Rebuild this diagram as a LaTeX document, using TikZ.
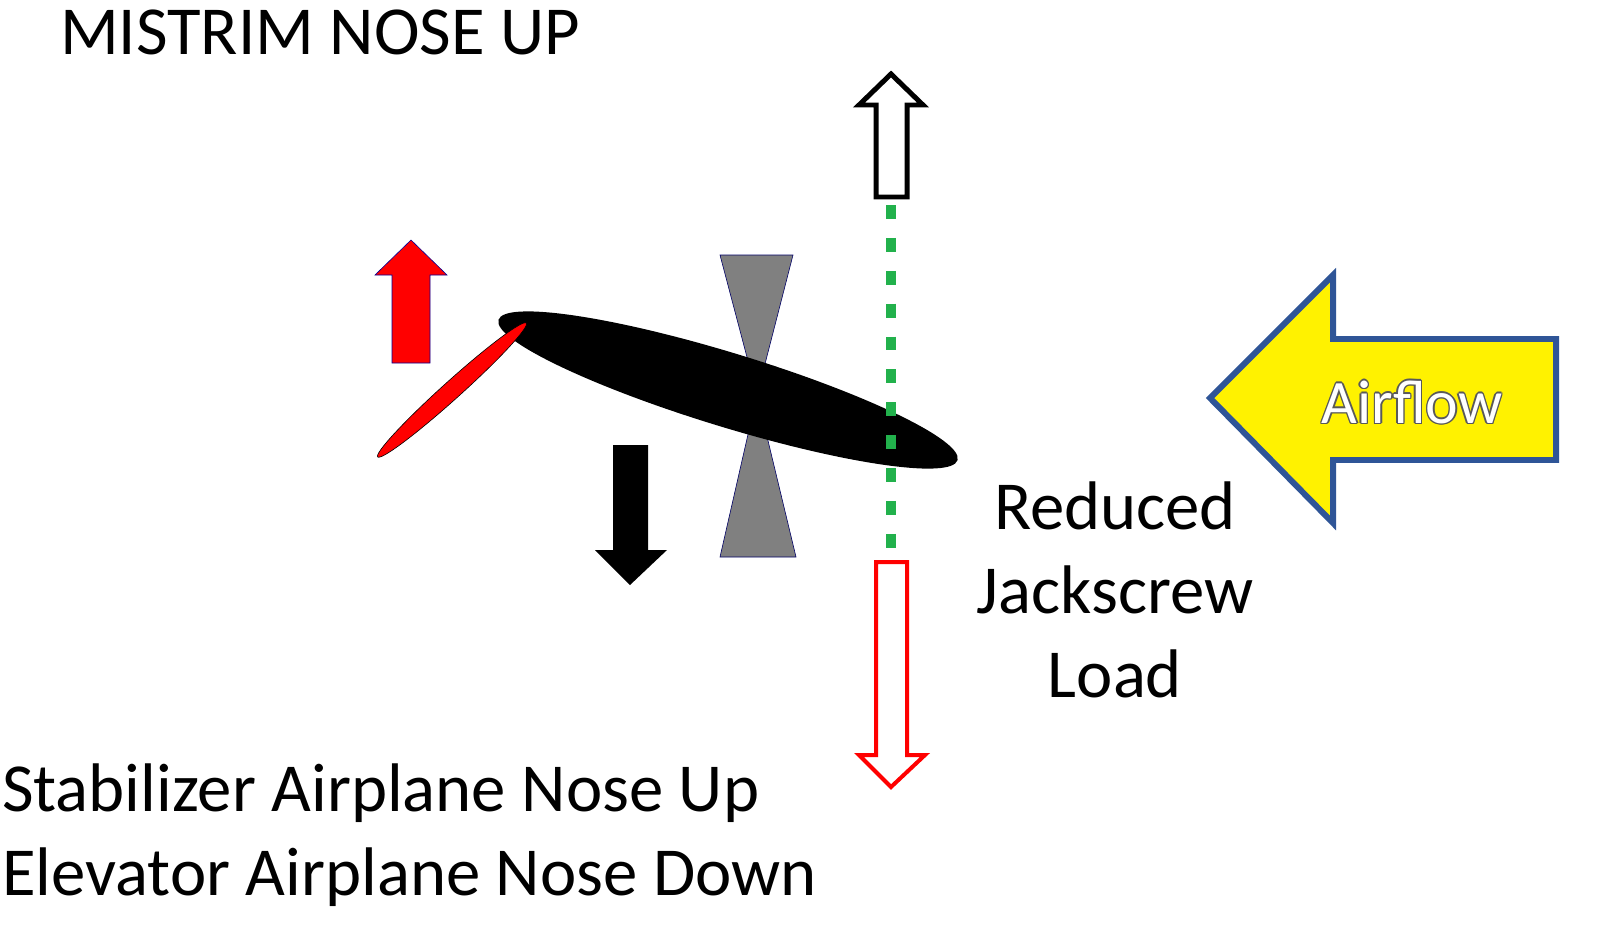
\documentclass[tikz,border=0pt]{standalone}
\usepackage{fontspec}
\setmainfont{Carlito}
\begin{document}
\begin{tikzpicture}[x=1bp,y=-1bp,
  lbl/.style={font=\fontsize{69}{84}\selectfont,inner sep=0pt}]
\useasboundingbox (0,0) rectangle (1600,930);
\fill[white] (0,0) rectangle (1600,930);
\node[lbl,anchor=west] (title) at (60,32) {MISTRIM NOSE UP};
% hourglass
\fill[fill=gray,draw=blue!40!black,line width=0.6] (720,255) -- (793,255) -- (757,395) -- cycle;
\fill[fill=gray,draw=blue!40!black,line width=0.6] (720,557) -- (796,557) -- (757,395) -- cycle;
% ellipses
\fill[black] (728,390) ellipse[x radius=240,y radius=37,rotate=-17];
\filldraw[fill=red,draw=black,line width=0.6] (452,390) ellipse[x radius=100,y radius=9,rotate=42];
% red up arrow
\filldraw[fill=red,draw=blue!60!black,line width=0.6] (392,363) -- (392,275) -- (375,275) -- (411,240) -- (447,275) -- (430,275) -- (430,363) -- cycle;
% black down arrow
\fill[black] (613,445) -- (613,550) -- (595,550) -- (630,585) -- (667,550) -- (648,550) -- (648,445) -- cycle;
% green dotted line
\coordinate (gtop) at (891,205);
\coordinate (gbot) at (891,550);
\draw[color={rgb,255:red,34;green,177;blue,76},line width=11,dash pattern=on 14 off 19] (gtop) -- (gbot);
% white up arrow
\draw[black,line width=5,fill=white,line join=miter] (876,197) -- (876,105) -- (859,105) -- (891,74) -- (923,105) -- (907,105) -- (907,197) -- cycle;
% red hollow down arrow
\draw[red,line width=4,fill=white,line join=miter] (876,562) -- (876,755) -- (859,755) -- (891,787) -- (925,755) -- (907,755) -- (907,562) -- cycle;
% airflow arrow
\filldraw[fill=yellow,draw={rgb,255:red,47;green,85;blue,151},line width=6,line join=miter] (1210,398) -- (1333,275) -- (1333,339) -- (1556,339) -- (1556,460) -- (1333,460) -- (1333,523) -- cycle;
\foreach \dx/\dy in {-1.5/0,1.5/0,0/-1.5,0/1.5,-1/-1,1/1,-1/1,1/-1}
  \node[lbl,font=\fontsize{62}{84}\selectfont,text=gray!70!black] at (1412+\dx,402+\dy) {Airflow};
\node[lbl,font=\fontsize{62}{84}\selectfont,text=white] (air) at (1412,402) {Airflow};
% labels
\node[lbl,align=center,anchor=north] (load) at (1115,482) {Reduced\\Jackscrew\\Load};
\node[lbl,align=left,anchor=north west] (bottom) at (2,764) {Stabilizer Airplane Nose Up\\Elevator Airplane Nose Down};
\end{tikzpicture}
\end{document}
